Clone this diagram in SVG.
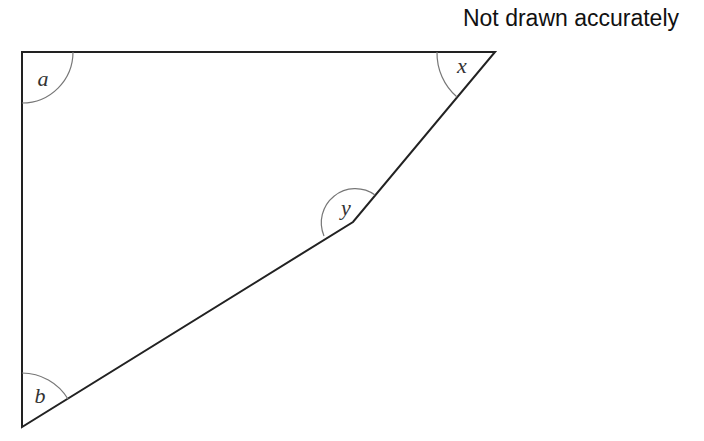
<svg xmlns="http://www.w3.org/2000/svg" width="704" height="441" viewBox="0 0 704 441">
<style>
.edge{fill:none;stroke:#222;stroke-width:2;stroke-linejoin:miter}
.arc{fill:none;stroke:#777;stroke-width:1.2}
.lbl{font-family:"Liberation Serif",serif;font-style:italic;font-size:22px;fill:#333;text-anchor:middle}
.note{font-family:"Liberation Sans",Arial,sans-serif;font-size:23px;fill:#111;text-anchor:end}
</style>
<rect width="704" height="441" fill="#fff"/>
<text class="note" x="679" y="26">Not drawn accurately</text>
<g id="connectors">
<path class="edge" d="M22,427 L22,52 L495,52 L353,222 Z"/>
</g>
<g id="angle-a">
<path class="arc" d="M73,52 A51,51 0 0 1 22,103"/>
<text class="lbl" x="43" y="86">a</text>
</g>
<g id="angle-x">
<path class="arc" d="M437,52 A58,58 0 0 0 457,97"/>
<text class="lbl" x="462" y="73">x</text>
</g>
<g id="angle-y">
<path class="arc" d="M375,195 A34,34 0 0 0 324,236"/>
<text class="lbl" x="346" y="215">y</text>
</g>
<g id="angle-b">
<path class="arc" d="M22,373 A54,54 0 0 1 68,399"/>
<text class="lbl" x="40" y="403">b</text>
</g>
</svg>
